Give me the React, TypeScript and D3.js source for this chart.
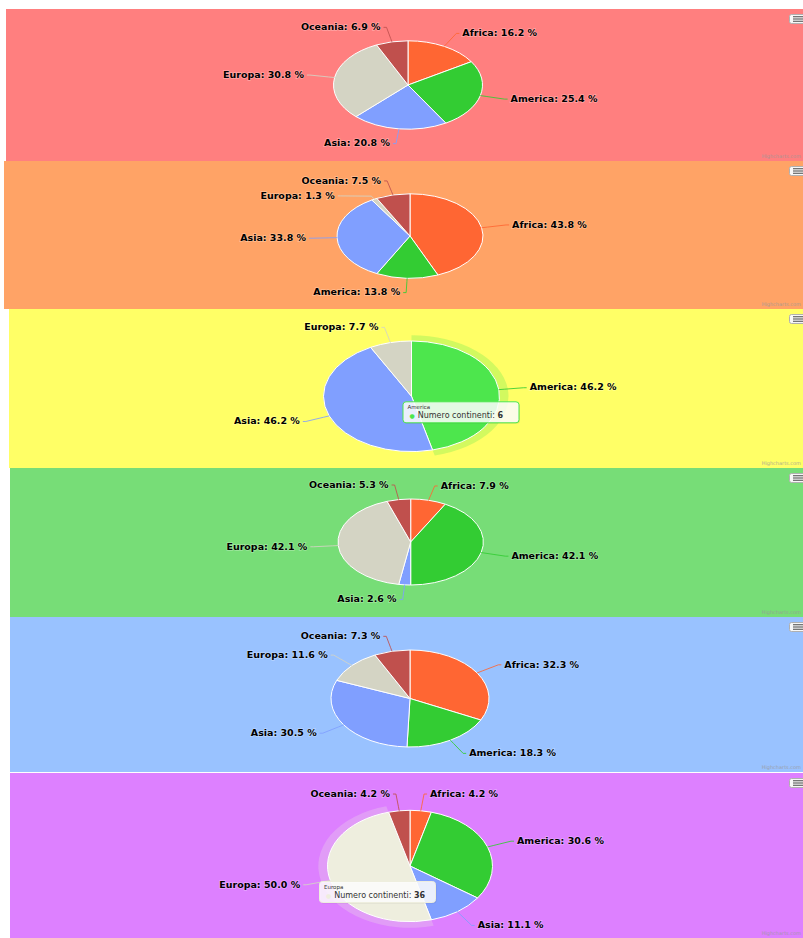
import React from 'react';
import * as d3 from 'd3';

// continents and their slice colours
const continents = ['Africa', 'America', 'Asia', 'Europa', 'Oceania'];
const sliceColors = ['#FF6633', '#33CC33', '#809FFF', '#D4D4C4', '#C0504D'];
const seriesName = 'Numero continenti';

const counts1 = [21, 33, 27, 40, 9];
const counts2 = [35, 11, 27, 1, 6];
const counts3 = [0, 6, 6, 1, 0];
const counts4 = [3, 16, 1, 16, 2];
const counts5 = [53, 30, 50, 19, 12];
const counts6 = [3, 22, 8, 36, 3];

// layout of the six stacked screenshots
const panels = [
  { counts: counts1, bg: '#FF7F7F', x: 6, y: 9, h: 152, cx: 408, cy: 85, rx: 74.5, ry: 44.2 },
  { counts: counts2, bg: '#FFA366', x: 4, y: 161, h: 148, cx: 410, cy: 236, rx: 73, ry: 42.2 },
  { counts: counts3, bg: '#FFFF66', x: 9, y: 309, h: 159, cx: 411.5, cy: 396.3, rx: 88, ry: 55.3, hover: 1, tip: [-9, 5] },
  { counts: counts4, bg: '#77DD77', x: 10, y: 468, h: 149, cx: 410.7, cy: 542, rx: 72.7, ry: 43 },
  { counts: counts5, bg: '#99C2FF', x: 10, y: 617, h: 155, cx: 410, cy: 698.5, rx: 79, ry: 48.5 },
  { counts: counts6, bg: '#DD80FF', x: 10, y: 773, h: 165, cx: 410, cy: 866, rx: 82.5, ry: 55.7, hover: 3, tip: [-91, 15] },
];

const labelDistance = 25;
const minGap = 15;
const labelFont = '"DejaVu Sans", Verdana, sans-serif';

const brighten = (hex: string, amt: number) => {
  const c = d3.rgb(hex);
  return d3.rgb(c.r + 255 * amt, c.g + 255 * amt, c.b + 255 * amt).formatHex();
};

const PieChart = ({ panel }: { panel: any }) => {
  const { counts, bg, x, y, h, cx, cy, rx, ry, hover, tip } = panel;
  const k = ry / rx;
  const total = d3.sum(counts as number[]);
  const arcs = d3.pie<number>().sort(null).value((d) => d)(counts);
  const arc = d3.arc<any>().innerRadius(0).outerRadius(rx);
  const halo = d3.arc<any>().innerRadius(rx).outerRadius(rx + 9);
  const line = d3.line();
  const R = rx + labelDistance;

  const labels = arcs
    .filter((a) => a.value > 0)
    .map((a) => {
      const mid = (a.startAngle + a.endAngle) / 2;
      return { i: a.index, mid, left: mid > Math.PI, y: cy - R * Math.cos(mid) * k, x: 0 };
    });

  // push overlapping labels apart on each side
  [true, false].forEach((side) => {
    const list = labels.filter((l) => l.left === side).sort((p, q) => p.y - q.y);
    for (let j = 1; j < list.length; j++) {
      if (list[j].y < list[j - 1].y + minGap) list[j].y = list[j - 1].y + minGap;
    }
  });
  labels.forEach((l) => {
    const dy = (l.y - cy) / k;
    const dx = Math.sqrt(Math.max(0, R * R - dy * dy));
    l.x = cx + (l.left ? -dx : dx);
  });

  const hovered = hover !== undefined ? arcs[hover] : null;

  return (
    <g>
      <rect x={x} y={y} width={803 - x} height={h} fill={bg} />

      <g transform={`translate(${cx},${cy}) scale(1,${k})`}>
        {hovered && (
          <path d={halo(hovered) as string} fill={brighten(sliceColors[hover], 0.1)} opacity={0.25} />
        )}
        {arcs.map((a) => (
          <path
            key={a.index}
            d={arc(a) as string}
            fill={a.index === hover ? brighten(sliceColors[a.index], 0.1) : sliceColors[a.index]}
            stroke="#FFFFFF"
            strokeWidth={1}
            vectorEffect="non-scaling-stroke"
          />
        ))}
      </g>

      {labels.map((l) => {
        const s = Math.sin(l.mid);
        const c = Math.cos(l.mid);
        const pts: [number, number][] = [
          [l.x + (l.left ? -3 : 3), l.y],
          [l.x, l.y],
          [cx + (rx + 6) * s, cy - (rx + 6) * c * k],
          [cx + rx * s, cy - rx * c * k],
        ];
        return (
          <path
            key={'c' + l.i}
            d={line(pts) as string}
            fill="none"
            stroke={sliceColors[l.i]}
            strokeWidth={1}
            opacity={0.85}
          />
        );
      })}

      {labels.map((l) => (
        <text
          key={'t' + l.i}
          transform={`translate(${l.x + (l.left ? -6 : 6)},${l.y}) scale(1,0.85)`}
          textAnchor={l.left ? 'end' : 'start'}
          dominantBaseline="central"
          fontFamily={labelFont}
          fontWeight="bold"
          fontSize={9.5}
          fill="#000"
          stroke="rgba(255,255,255,0.3)"
          strokeWidth={1.5}
          paintOrder="stroke"
        >
          {`${continents[l.i]}: ${((100 * counts[l.i]) / total).toFixed(1)} %`}
        </text>
      ))}

      {/* export menu button */}
      <g transform={`translate(789,${y + 5})`}>
        <rect x={0.5} y={0.5} width={20} height={9} rx={2} fill="#F7F7F7" stroke="#B0B0B0" />
        {[2.7, 5, 7.3].map((d) => (
          <line key={d} x1={4} x2={16} y1={d} y2={d} stroke="#666" strokeWidth={1.2} />
        ))}
      </g>

      <text
        x={801}
        y={y + h - 3}
        textAnchor="end"
        fontFamily={labelFont}
        fontSize={5}
        fill="#9A9A9A"
        opacity={0.8}
      >
        Highcharts.com
      </text>

      {hovered && tip && (
        <g transform={`translate(${cx + tip[0]},${cy + tip[1]})`}>
          <rect x={1.5} y={1.5} width={116} height={21} rx={3} fill="#000" opacity={0.08} />
          <rect
            x={0.5}
            y={0.5}
            width={116}
            height={21}
            rx={3}
            fill="#FFFFFF"
            fillOpacity={0.85}
            stroke={brighten(sliceColors[hover], 0.1)}
          />
          <text x={5} y={8} fontFamily={labelFont} fontSize={5.5} fill="#333">
            {continents[hover]}
          </text>
          <text x={7} y={16.5} fontFamily={labelFont} fontSize={8} fill="#333">
            <tspan fill={brighten(sliceColors[hover], 0.1)} fontSize={6}>●</tspan>
            <tspan dx={3}>{seriesName}: </tspan>
            <tspan fontWeight="bold">{counts[hover]}</tspan>
          </text>
        </g>
      )}
    </g>
  );
};

export default function App() {
  return (
    <svg
      width={803}
      height={938}
      style={{ position: 'absolute', left: 0, top: 0, background: '#FFFFFF' }}
    >
      {panels.map((p, i) => (
        <PieChart key={i} panel={p} />
      ))}
    </svg>
  );
}
